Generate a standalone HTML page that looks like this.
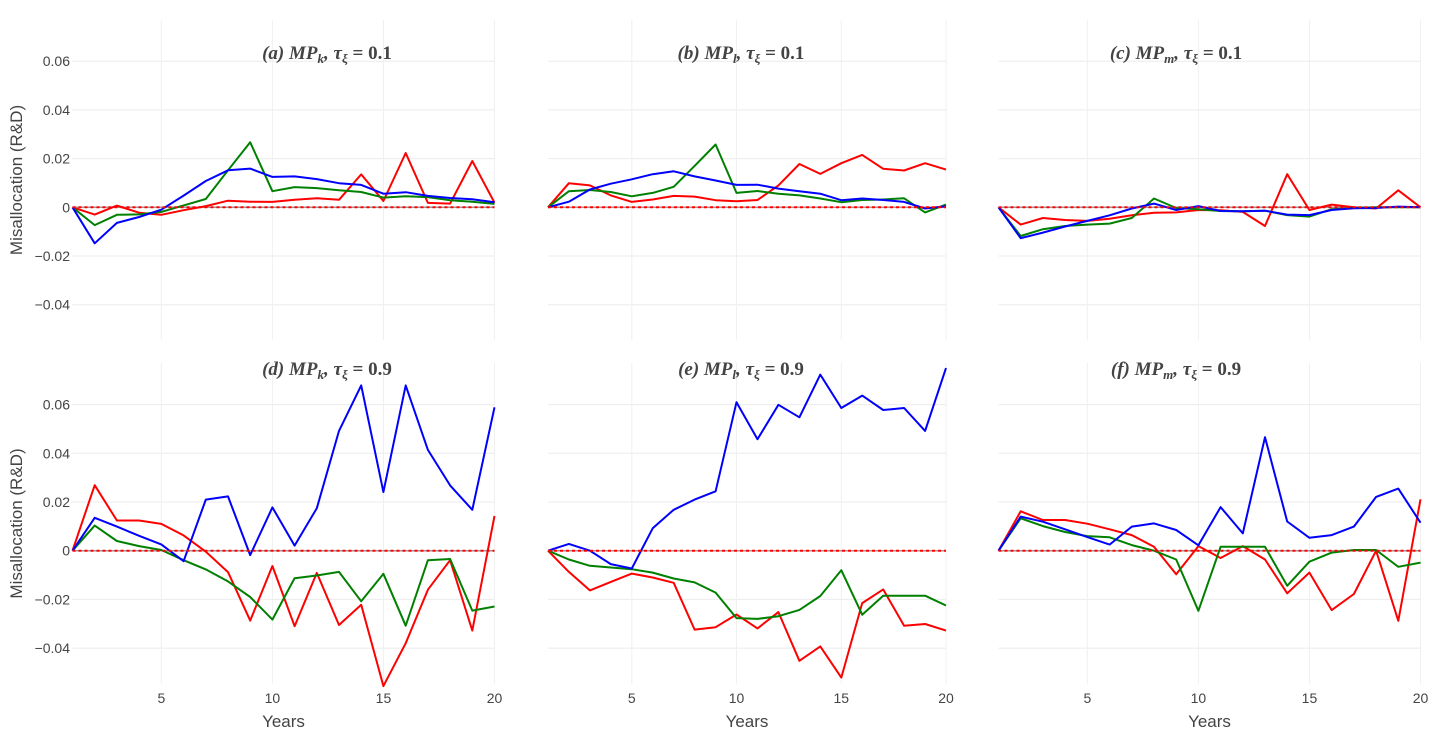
<!DOCTYPE html>
<html><head><meta charset="utf-8"><style>
body{margin:0;background:#fff;}
svg{display:block;font-family:"Liberation Sans",sans-serif;}
.tick{font-size:14px;fill:#444;}
.ttl{font-family:"Liberation Serif",serif;font-weight:bold;font-style:italic;font-size:19px;fill:#444;}
</style></head><body>
<svg id="chart" width="1440" height="732" viewBox="0 0 1440 732" xmlns="http://www.w3.org/2000/svg"></svg>
<script>
const years = [1,2,3,4,5,6,7,8,9,10,11,12,13,14,15,16,17,18,19,20];
const xTicks = [5,10,15,20];
const yTicks = [0.06,0.04,0.02,0,-0.02,-0.04];
const yTickLabels = ["0.06","0.04","0.02","0","−0.02","−0.04"];
const panelTitles = ["a","b","c","d","e","f"];
const panelSubs = ["k","l","m","k","l","m"];
const panelTaus = ["0.1","0.1","0.1","0.9","0.9","0.9"];
const aRed=[0,-0.003,0.0007,-0.0022,-0.0031,-0.0012,0.0005,0.0027,0.0023,0.0022,0.0031,0.0037,0.0031,0.0135,0.0026,0.0223,0.0018,0.0015,0.019,0.0019];
const aGreen=[0,-0.0073,-0.0031,-0.0029,-0.0019,0.0008,0.0034,0.0152,0.0267,0.0066,0.0083,0.0079,0.007,0.0063,0.004,0.0045,0.0042,0.0029,0.0023,0.0014];
const aBlue=[0,-0.0148,-0.0064,-0.004,-0.001,0.0048,0.0108,0.0152,0.0159,0.0125,0.0127,0.0116,0.0099,0.0092,0.0056,0.0062,0.0047,0.0038,0.0033,0.0021];
const bRed=[0,0.0099,0.009,0.0049,0.0022,0.0032,0.0047,0.0044,0.0029,0.0025,0.003,0.009,0.0178,0.0137,0.0181,0.0215,0.0158,0.0151,0.0181,0.0155];
const bGreen=[0,0.0066,0.0071,0.0063,0.0045,0.0059,0.0084,0.017,0.0258,0.0059,0.0067,0.0056,0.0049,0.0036,0.0021,0.003,0.0032,0.0037,-0.0021,0.0011];
const bBlue=[0,0.0023,0.0073,0.0097,0.0115,0.0136,0.0148,0.0127,0.011,0.0092,0.0093,0.0077,0.0066,0.0056,0.0029,0.0036,0.003,0.0022,-0.0005,0.0004];
const cRed=[0,-0.0071,-0.0044,-0.0052,-0.0056,-0.0047,-0.0033,-0.0022,-0.0021,-0.0011,-0.0012,-0.0019,-0.0077,0.0136,-0.0011,0.0011,0,-0.0005,0.007,0];
const cGreen=[0,-0.0118,-0.009,-0.0077,-0.0071,-0.0067,-0.0044,0.0036,-0.0003,-0.0008,-0.0015,-0.0016,-0.0014,-0.0032,-0.0038,-0.0008,-0.0003,0,0,0];
const cBlue=[0,-0.0127,-0.0104,-0.0079,-0.0056,-0.0033,-0.0005,0.0015,-0.0011,0.0005,-0.0015,-0.0016,-0.0014,-0.003,-0.0032,-0.0011,-0.0004,-0.0003,0.0003,0];
const dRed=[0,0.0269,0.0124,0.0124,0.011,0.0063,-0.0004,-0.0088,-0.0287,-0.0063,-0.031,-0.0091,-0.0305,-0.0222,-0.0556,-0.038,-0.016,-0.0039,-0.0328,0.0143];
const dGreen=[0,0.0103,0.004,0.0019,0.0003,-0.0039,-0.0077,-0.0126,-0.019,-0.0283,-0.0113,-0.0102,-0.0087,-0.0208,-0.0095,-0.0308,-0.0039,-0.0034,-0.0246,-0.0229];
const dBlue=[0,0.0135,0.0099,0.0061,0.0026,-0.0043,0.021,0.0223,-0.0018,0.0178,0.0021,0.0174,0.0492,0.0679,0.0241,0.0679,0.0414,0.0268,0.0168,0.0589];
const eRed=[0,-0.0087,-0.0163,-0.0128,-0.0094,-0.011,-0.0132,-0.0324,-0.0314,-0.0262,-0.0319,-0.0252,-0.0452,-0.0393,-0.0521,-0.0215,-0.0159,-0.0308,-0.0301,-0.0328];
const eGreen=[0,-0.0036,-0.0062,-0.0069,-0.0076,-0.009,-0.0114,-0.013,-0.0172,-0.0277,-0.028,-0.0269,-0.0243,-0.0186,-0.008,-0.0263,-0.0185,-0.0185,-0.0185,-0.0225];
const eBlue=[0,0.0028,0,-0.0055,-0.0073,0.0092,0.0168,0.021,0.0244,0.061,0.0458,0.0599,0.0548,0.0723,0.0586,0.0637,0.0578,0.0586,0.0492,0.075];
const fRed=[0,0.0162,0.0126,0.0126,0.0111,0.0088,0.0064,0.0016,-0.0097,0.0019,-0.003,0.0019,-0.0036,-0.0175,-0.009,-0.0244,-0.0178,0,-0.0288,0.0211];
const fGreen=[0,0.0133,0.0101,0.0077,0.006,0.0055,0.0023,0,-0.0036,-0.0247,0.0016,0.0016,0.0016,-0.0144,-0.0045,-0.0008,0.0003,0.0003,-0.0066,-0.0049];
const fBlue=[0,0.014,0.0119,0.0088,0.0056,0.0025,0.0099,0.0112,0.0085,0.0022,0.0179,0.0071,0.0466,0.012,0.0053,0.0064,0.0099,0.0221,0.0255,0.0115];
const seriesSets=[[aRed,aGreen,aBlue],[bRed,bGreen,bBlue],[cRed,cGreen,cBlue],[dRed,dGreen,dBlue],[eRed,eGreen,eBlue],[fRed,fGreen,fBlue]];
const seriesNames=["red","green","blue"];
const colors=["#ff0000","#008000","#0000ff"];

const NS="http://www.w3.org/2000/svg";
const svg=document.getElementById('chart');
function mk(tag,attrs,parent){const e=document.createElementNS(NS,tag);for(const k in attrs)e.setAttribute(k,attrs[k]);(parent||svg).appendChild(e);return e;}
const cols=[[72.5,494.5],[548,946],[998.5,1420.5]];
const rows=[{zero:207.3,top:20,bot:340,title:59},{zero:550.7,top:363,bot:684,title:375}];
const pxPer=2435;

for(let p=0;p<6;p++){
  const c=cols[p%3], r=rows[Math.floor(p/3)];
  const xs=v=>c[0]+(v-1)*(c[1]-c[0])/19;
  const ys=v=>r.zero-v*pxPer;
  const g=mk('g',{});
  
  
  yTicks.forEach((t,i)=>{
    const l=mk('line',{x1:c[0],x2:c[1],y1:ys(t),y2:ys(t),stroke:'#ebebeb','stroke-width':1},g);
    
    
    if(p%3===0){
      const tx=mk('text',{x:70,y:ys(t)+5,'text-anchor':'end',class:'tick'},g);
      tx.textContent=yTickLabels[i];
      
      
    }
  });
  xTicks.forEach(t=>{
    const l=mk('line',{x1:xs(t),x2:xs(t),y1:r.top,y2:r.bot,stroke:'#f0f0f0','stroke-width':1},g);
    
    
    if(p>=3){
      const tx=mk('text',{x:xs(t),y:703,'text-anchor':'middle',class:'tick'},g);
      tx.textContent=String(t);
      
      
    }
  });
  const z1=mk('line',{x1:c[0],x2:c[1],y1:ys(0),y2:ys(0),stroke:'#999','stroke-width':1.5},g);
  
  
  seriesSets[p].forEach((arr,si)=>{
    const d=arr.map((v,i)=>(i?'L':'M')+xs(years[i]).toFixed(1)+','+ys(v).toFixed(1)).join('');
    const pa=mk('path',{d:d,fill:'none',stroke:colors[si],'stroke-width':2,'stroke-linejoin':'round'},g);
    
    
  });
  const z2=mk('line',{x1:c[0],x2:c[1],y1:ys(0),y2:ys(0),stroke:'#ff0000','stroke-width':2,'stroke-dasharray':'3,3'},g);
  
  
  const tcx=[327,741,1176][p%3];
  const tt=mk('text',{x:tcx,y:r.title,'text-anchor':'middle',class:'ttl'},g);
  
  
  tt.innerHTML='('+panelTitles[p]+') MP<tspan font-size="13" dy="4">'+panelSubs[p]+'</tspan><tspan dy="-4">, τ</tspan><tspan font-size="13" dy="4">ξ</tspan><tspan dy="-4" font-style="normal"> = '+panelTaus[p]+'</tspan>';
  if(p>=3){
    const xl=mk('text',{x:(c[0]+c[1])/2,y:727,'text-anchor':'middle','font-size':17,fill:'#444'},g);
    xl.textContent='Years';
    
    
  }
  if(p%3===0){
    const cy=(r.top+r.bot)/2;
    const yl=mk('text',{x:22,y:cy,'text-anchor':'middle','font-size':17,fill:'#444',transform:'rotate(-90 22 '+cy+')'},g);
    yl.textContent='Misallocation (R&D)';
    
    
  }
}
</script>
</body></html>
